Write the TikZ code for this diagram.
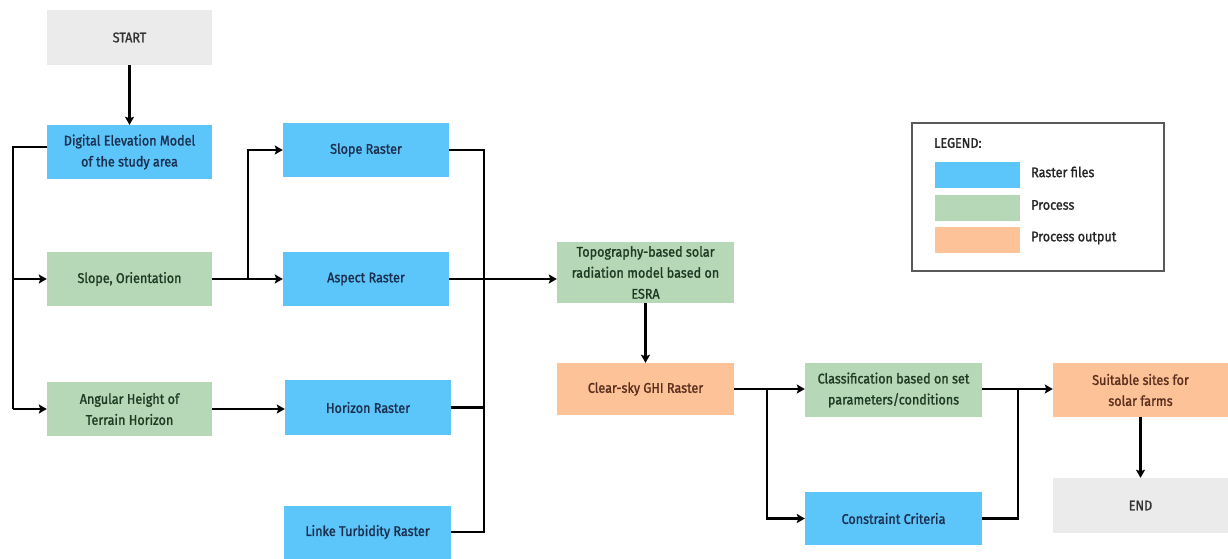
\documentclass[tikz,border=0pt]{standalone}
\usepackage{fontspec}
\setmainfont{Fira Sans}[FakeStretch=0.9,FakeBold=1.3]
\usetikzlibrary{arrows.meta}
\definecolor{rasterc}{HTML}{5CC5F9}
\definecolor{procc}{HTML}{B6D8B6}
\definecolor{outc}{HTML}{FDC298}
\definecolor{termc}{HTML}{EBEBEB}
\definecolor{rastert}{HTML}{1B2E4E}
\definecolor{proct}{HTML}{1F3A24}
\definecolor{outt}{HTML}{5A2E1C}
\definecolor{termt}{HTML}{333333}
\tikzset{
  box/.style={rectangle, inner sep=0pt, align=center, font=\fontsize{14}{21}\selectfont},
  raster/.style={box, fill=rasterc, text=rastert},
  proc/.style={box, fill=procc, text=proct},
  pout/.style={box, fill=outc, text=outt},
  term/.style={box, fill=termc, text=termt},
  conn/.style={line width=2.3pt, black},
  arr/.style={conn, -{Stealth[length=8pt,width=9pt,inset=1.5pt]}},
}
\begin{document}
\begin{tikzpicture}[x=1pt,y=-1pt]
\useasboundingbox (0,0) rectangle (1228,559);
% nodes
\node[term, minimum width=165pt, minimum height=55pt] (start) at (129.5,37.5) {START};
\node[raster, minimum width=165pt, minimum height=54pt] (dem) at (129.5,152) {Digital Elevation Model\\of the study area};
\node[proc, minimum width=165pt, minimum height=54pt] (so) at (129.5,279) {Slope, Orientation};
\node[proc, minimum width=165pt, minimum height=54pt] (ah) at (129.5,409) {Angular Height of\\Terrain Horizon};
\node[raster, minimum width=166pt, minimum height=54pt] (sr) at (366,150) {Slope Raster};
\node[raster, minimum width=166pt, minimum height=54pt] (ar) at (366,279) {Aspect Raster};
\node[raster, minimum width=166pt, minimum height=55pt] (hr) at (368,407.5) {Horizon Raster};
\node[raster, minimum width=167pt, minimum height=53pt] (lt) at (367.5,532) {Linke Turbidity Raster};
\node[proc, minimum width=177pt, minimum height=61pt] (topo) at (645.5,272.5) {Topography-based solar\\radiation model based on\\ESRA};
\node[pout, minimum width=177pt, minimum height=52pt] (cs) at (645.5,389) {Clear-sky GHI Raster};
\node[proc, minimum width=177pt, minimum height=54pt] (cl) at (893.5,390) {Classification based on set\\parameters/conditions};
\node[raster, minimum width=177pt, minimum height=53pt] (cc) at (893.5,518.5) {Constraint Criteria};
\node[pout, minimum width=175pt, minimum height=54pt] (su) at (1140.5,390) {Suitable sites for\\solar farms};
\node[term, minimum width=175pt, minimum height=55pt] (end) at (1140.5,505.5) {END};
% legend
\node[rectangle, draw=black!65, line width=1.3pt, fill=white, minimum width=252pt, minimum height=148pt, inner sep=0pt] (leg) at (1038,197) {};
\node[box, anchor=west, text=black!85] (legt) at (934,143) {LEGEND:};
\node[raster, minimum width=85pt, minimum height=26pt] (l1) at (977.5,175) {};
\node[proc, minimum width=85pt, minimum height=26pt] (l2) at (977.5,207.5) {};
\node[pout, minimum width=85pt, minimum height=26pt] (l3) at (977.5,240) {};
\node[box, anchor=west, text=black!85] (l1t) at (1031,172) {Raster files};
\node[box, anchor=west, text=black!85] (l2t) at (1031,205) {Process};
\node[box, anchor=west, text=black!85] (l3t) at (1031,238) {Process output};
% junction coordinates
\coordinate (jl) at (13,147);
\coordinate (jso) at (248,0);
\coordinate (jr) at (484,0);
\coordinate (jcs) at (767,0);
\coordinate (jcl) at (1018,0);
% connectors
\draw[arr] (start.south) -- (dem.north);
\draw[conn] ([yshift=5pt]dem.west) -- (jl) -- (jl |- ah.west);
\draw[arr] (jl |- so.west) -- (so.west);
\draw[arr] (jl |- ah.west) -- (ah.west);
\draw[arr] (so.east) -- (ar.west);
\draw[arr] (jso |- so.east) |- (sr.west);
\draw[arr] (ah.east) -- (ah.east -| hr.west);
\draw[conn] (sr.east) -| (jr |- lt.east) -- (lt.east);
\draw[conn] (hr.east) -- (jr |- hr.east);
\draw[arr] (ar.east) -- (topo.west |- ar.east);
\draw[arr] (topo.south) -- (cs.north);
\draw[arr] (cs.east) -- (cl.west |- cs.east);
\draw[arr] (jcs |- cs.east) |- (cc.west);
\draw[arr] (cl.east |- cs.east) -- (su.west |- cs.east);
\draw[conn] (cc.east) -| (jcl |- cs.east);
\draw[arr] (su.south) -- (end.north);
\end{tikzpicture}
\end{document}
